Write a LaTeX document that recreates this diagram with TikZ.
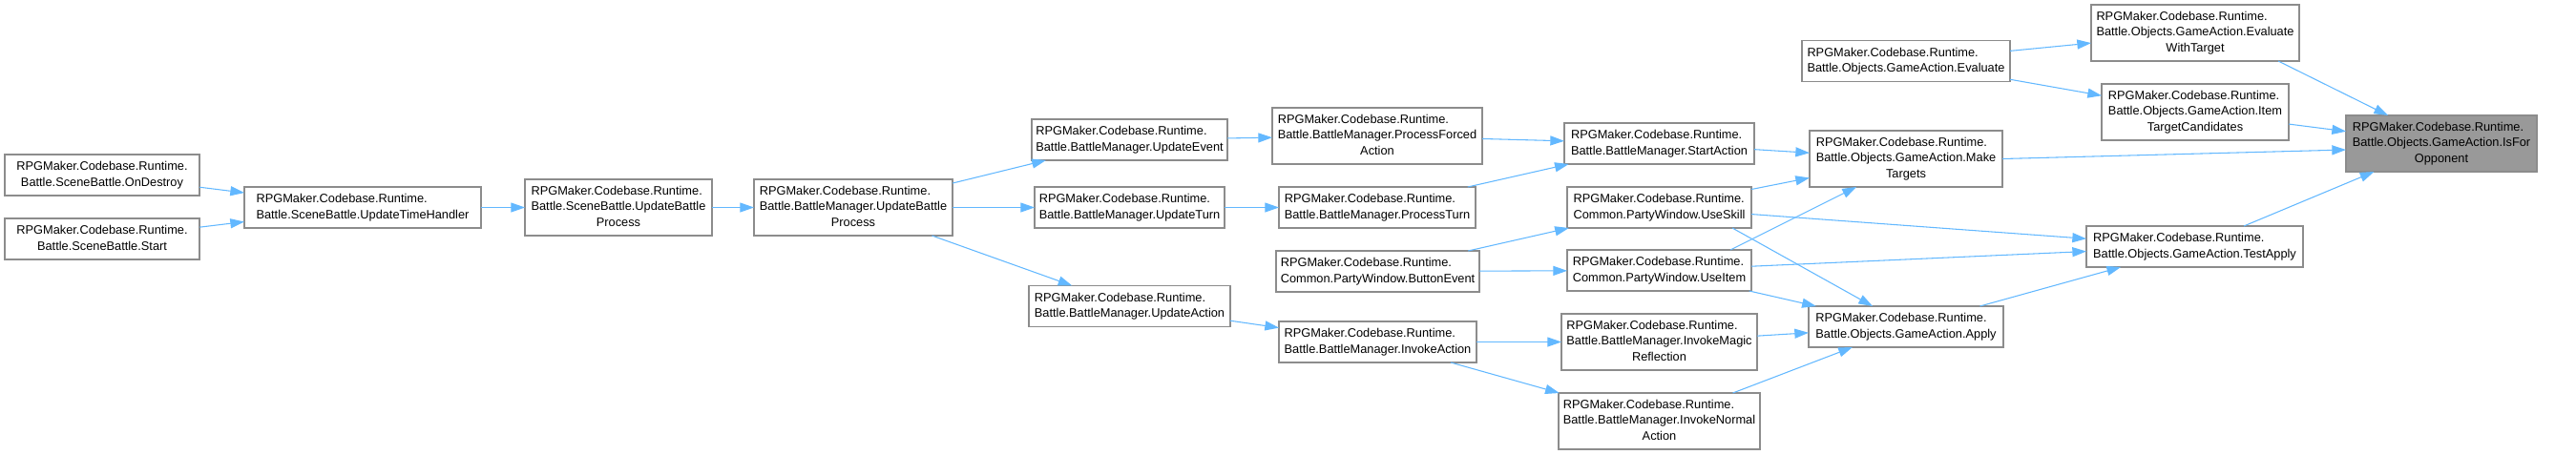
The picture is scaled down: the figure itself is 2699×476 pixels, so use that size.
\documentclass[tikz,border=0pt]{standalone}
\usepackage{fontspec}
\setmainfont{Liberation Sans}
\usetikzlibrary{arrows.meta}
\definecolor{edgeblue}{HTML}{63B8FF}
\definecolor{boxline}{HTML}{8C8C8C}
\definecolor{hlfill}{HTML}{999999}
\newcommand\tlii[2]{\begin{tabular}{@{}l@{}}#1\\\multicolumn{1}{@{}c@{}}{#2}\end{tabular}}
\newcommand\tliii[3]{\begin{tabular}{@{}l@{}}#1\\#2\\\multicolumn{1}{@{}c@{}}{#3}\end{tabular}}
\newcommand\bx[6][]{\node[box,#1,minimum width={#5*0.75pt},minimum height={#6*0.75pt}] (#2) at (#3,#4) {};}
\begin{document}
\begin{tikzpicture}[x=0.75pt,y=-0.75pt,
  box/.style={draw=boxline,line width=1.1pt,fill=white,inner sep=0pt,outer sep=0pt,
    font=\fontsize{9.6}{12.4}\selectfont},
  hl/.style={fill=hlfill},
  call/.style={draw=edgeblue,line width=0.8pt,-{Triangle[length=11pt,width=7.5pt]}}]
\useasboundingbox (0,0) rectangle (2699,476);
\tikzset{lbl/.style={font=\fontsize{9.6}{12.4}\selectfont,inner sep=0pt}}
% boxes
\newcommand\nd[7][]{\node[box,#1,minimum width={#5*0.75pt},minimum height={#6*0.75pt}] (#2) at (#3,#4) {#7};}
\nd{ond}{107}{183.5}{204}{43}{\tlii{RPGMaker.Codebase.Runtime.}{Battle.SceneBattle.OnDestroy}}
\nd{sta}{107}{250.5}{204}{43}{\tlii{RPGMaker.Codebase.Runtime.}{Battle.SceneBattle.Start}}
\nd{uth}{380}{217.5}{248}{43}{\tlii{RPGMaker.Codebase.Runtime.}{Battle.SceneBattle.UpdateTimeHandler}}
\nd{sbp}{648}{217.5}{196}{59}{\tliii{RPGMaker.Codebase.Runtime.}{Battle.SceneBattle.UpdateBattle}{Process}}
\nd{bup}{894}{217.5}{208}{59}{\tliii{RPGMaker.Codebase.Runtime.}{Battle.BattleManager.UpdateBattle}{Process}}
\nd{uev}{1183.5}{146.5}{205}{43}{\tlii{RPGMaker.Codebase.Runtime.}{Battle.BattleManager.UpdateEvent}}
\nd{utu}{1183.5}{217.5}{199}{43}{\tlii{RPGMaker.Codebase.Runtime.}{Battle.BattleManager.UpdateTurn}}
\nd{uac}{1183.5}{321}{211}{43}{\tlii{RPGMaker.Codebase.Runtime.}{Battle.BattleManager.UpdateAction}}
\nd{pfa}{1443}{142.5}{220}{59}{\tliii{RPGMaker.Codebase.Runtime.}{Battle.BattleManager.ProcessForced}{Action}}
\nd{ptu}{1443}{217.5}{206}{43}{\tlii{RPGMaker.Codebase.Runtime.}{Battle.BattleManager.ProcessTurn}}
\nd{bev}{1443.5}{284.5}{213}{43}{\tlii{RPGMaker.Codebase.Runtime.}{Common.PartyWindow.ButtonEvent}}
\nd{iac}{1443.5}{358.5}{207}{43}{\tlii{RPGMaker.Codebase.Runtime.}{Battle.BattleManager.InvokeAction}}
\nd{sac}{1738.5}{150.5}{199}{43}{\tlii{RPGMaker.Codebase.Runtime.}{Battle.BattleManager.StartAction}}
\nd{usk}{1738.5}{217.5}{193}{43}{\tlii{RPGMaker.Codebase.Runtime.}{Common.PartyWindow.UseSkill}}
\nd{uit}{1738.5}{283.5}{193}{43}{\tlii{RPGMaker.Codebase.Runtime.}{Common.PartyWindow.UseItem}}
\nd{imr}{1738.5}{358.5}{205}{59}{\tliii{RPGMaker.Codebase.Runtime.}{Battle.BattleManager.InvokeMagic}{Reflection}}
\nd{ina}{1738.5}{441.5}{211}{59}{\tliii{RPGMaker.Codebase.Runtime.}{Battle.BattleManager.InvokeNormal}{Action}}
\nd{eva}{1997}{64}{218}{43}{\tlii{RPGMaker.Codebase.Runtime.}{Battle.Objects.GameAction.Evaluate}}
\nd{mkt}{1997}{166.5}{202}{59}{\tliii{RPGMaker.Codebase.Runtime.}{Battle.Objects.GameAction.Make}{Targets}}
\nd{app}{1997}{342.5}{204}{43}{\tlii{RPGMaker.Codebase.Runtime.}{Battle.Objects.GameAction.Apply}}
\nd{ewt}{2300}{34.5}{218}{59}{\tliii{RPGMaker.Codebase.Runtime.}{Battle.Objects.GameAction.Evaluate}{WithTarget}}
\nd{itc}{2300}{117.5}{196}{59}{\tliii{RPGMaker.Codebase.Runtime.}{Battle.Objects.GameAction.Item}{TargetCandidates}}
\nd{tap}{2299.5}{258.5}{227}{43}{\tlii{RPGMaker.Codebase.Runtime.}{Battle.Objects.GameAction.TestApply}}
\nd[hl]{ifo}{2558}{150.5}{200}{59}{\tliii{RPGMaker.Codebase.Runtime.}{Battle.Objects.GameAction.IsFor}{Opponent}}
% edges
\draw[call] (ond) -- (uth);
\draw[call] (sta) -- (uth);
\draw[call] (uth) -- (sbp);
\draw[call] (sbp) -- (bup);
\draw[call] (bup) -- (uev);
\draw[call] (bup) -- (utu);
\draw[call] (bup) -- (uac);
\draw[call] (uev) -- (pfa);
\draw[call] (utu) -- (ptu);
\draw[call] (uac) -- (iac);
\draw[call] (pfa) -- (sac);
\draw[call] (ptu) -- (sac);
\draw[call] (bev) -- (usk);
\draw[call] (bev) -- (uit);
\draw[call] (iac) -- (imr);
\draw[call] (iac) -- (ina);
\draw[call] (sac) -- (mkt);
\draw[call] (usk) -- (mkt);
\draw[call] ([xshift=74.5*0.75pt]uit.north) -- ([xshift=-52*0.75pt]mkt.south);
\draw[call] ([xshift=76.5*0.75pt]usk.south) -- ([xshift=-35*0.75pt]app.north);
\draw[call] (usk) -- (tap);
\draw[call] (uit) -- (tap);
\draw[call] (uit) -- (app);
\draw[call] (imr) -- (app);
\draw[call] (ina) -- (app);
\draw[call] (app) -- (tap);
\draw[call] (eva) -- (ewt);
\draw[call] (eva) -- (itc);
\draw[call] (mkt.east) -- ([yshift=-6.5*0.75pt]ifo.west);
\draw[call] ([xshift=87*0.75pt]ewt.south) -- ([xshift=-56*0.75pt]ifo.north);
\draw[call] (itc) -- (ifo);
\draw[call] (tap) -- (ifo);
\end{tikzpicture}
\end{document}
